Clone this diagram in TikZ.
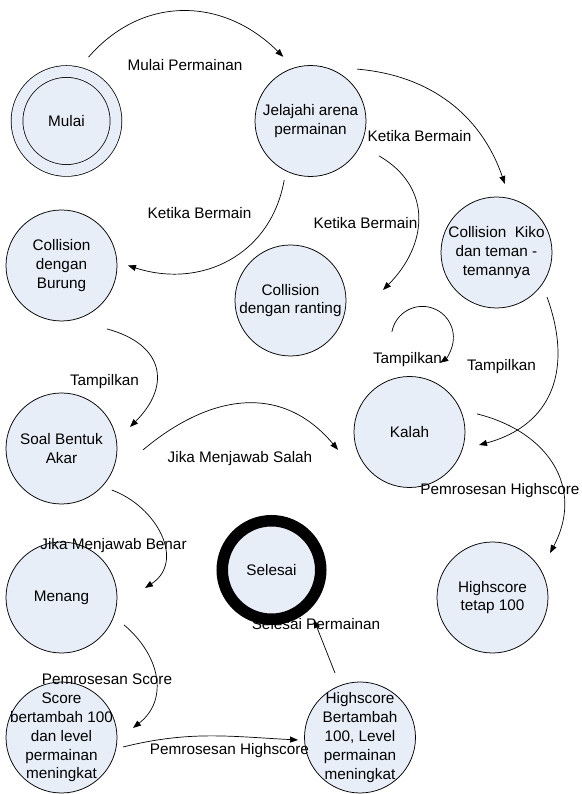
\documentclass[tikz,border=0pt]{standalone}
\usepackage{fontspec}
\setmainfont{Liberation Sans}
\usetikzlibrary{arrows.meta}
\definecolor{statefill}{RGB}{232,238,247}

\begin{document}
\begin{tikzpicture}[
    x=1pt,
    y=1pt,
    every node/.style={
        font=\fontsize{15.3}{18.8}\selectfont
    },
    state/.style={
        circle,
        draw,
        line width=0.75pt,
        fill=statefill,
        minimum size=111pt,
        inner sep=-22pt,
        align=center
    },
    start state/.style={
        state,
        double=statefill,
        double distance=11pt,
        minimum size=99pt
    },
    end state/.style={
        state,
        line width=11.5pt,
        minimum size=98.5pt
    },
    transition/.style={
        draw,
        line width=0.7pt,
        -{Triangle[length=8pt,width=6pt]}
    },
    transition label/.style={
        inner sep=0pt
    },
    ]
    \useasboundingbox (0,0) rectangle (581,794);

    \node[start state] (mulai) at (66.5,673) {Mulai};
    \node[state] (jelajahi) at (310.5,673) {Jelajahi arena\\permainan};
    \node[state] (burung) at (61.5,528.5) {Collision\\dengan\\Burung};
    \node[state] (ranting) at (290.5,493.5) {Collision\\dengan ranting};
    \node[state] (kiko) at (496.5,541.5) {Collision~~Kiko\\dan teman -\\temannya};
    \node[state] (soal) at (61.5,345.5) {Soal Bentuk\\Akar};
    \node[state] (kalah) at (409.5,362) {Kalah};
    \node[state] (menang) at (61.5,196.5) {Menang};
    \node[state] (tetap) at (492.5,196.5) {Highscore\\tetap 100};
    \node[state] (score) at (61.5,56.5) {Score\\bertambah 100\\dan level\\permainan\\meningkat};
    \node[state] (naik) at (360,56.5) {Highscore\\Bertambah\\100, Level\\permainan\\meningkat};
    \node[transition label] (lbl selesai) at (316,169.5) {Selesai Permainan};
    \node[end state] (selesai) at (271.5,224) {Selesai};

    \draw[transition] ([shift={(71:67.5)}]mulai.center) to[out=49,in=135,looseness=1.1] ([shift={(113:69.7)}]jelajahi.center);
    \draw[transition] ([shift={(48:69.8)}]jelajahi.center) to[bend left=33] ([shift={(83:69)}]kiko.center);
    \draw[transition] ([shift={(-27:76.9)}]jelajahi.center) to[out=-30,in=45,looseness=1.2] ([shift={(6.5:93.1)}]ranting.center);
    \draw[transition] ([shift={(-114:64.7)}]jelajahi.center) to[out=-100,in=-18,looseness=1.1] ([shift={(0:66.5)}]burung.center);
    \draw[transition] ([shift={(-54.4:78)}]burung.center) to[out=-15,in=45,looseness=1.5] ([shift={(17.4:71.8)}]soal.center);
    \draw[transition] ([shift={(-1:81.5)}]soal.center) to[out=40,in=130,looseness=1.15] ([shift={(194:73.7)}]kalah.center);
    \draw[transition] ([shift={(100:101.5)}]kalah.center) arc[start angle=170,end angle=-55,radius=31];
    \draw[transition] ([shift={(-41.4:67.3)}]kiko.center) to[out=-70,in=15,looseness=1.2] ([shift={(-10.6:70.7)}]kalah.center);
    \draw[transition] ([shift={(15:69.9)}]kalah.center) to[out=-14,in=62,looseness=1.2] ([shift={(37.7:72.7)}]tetap.center);
    \draw[transition] ([shift={(-39.6:65.1)}]soal.center) to[out=-20,in=33,looseness=1.2] ([shift={(6.5:84)}]menang.center);
    \draw[transition] ([shift={(-23.7:68.3)}]menang.center) to[out=-40,in=38,looseness=1.15] ([shift={(7.6:72.1)}]score.center);
    \draw[transition] ([shift={(-8.8:62.2)}]score.center) to[out=14,in=177] ([shift={(182.3:62)}]naik.center);
    \draw[transition] ([shift={(111.2:69.2)}]naik.center) -- ([shift={(-49.6:65.6)}]selesai.center);

    \node[transition label] (lbl mulai) at (185,729) {Mulai Permainan};
    \node[transition label] (lbl kiko) at (419.5,658) {Ketika Bermain};
    \node[transition label] (lbl ranting) at (365.5,571) {Ketika Bermain};
    \node[transition label] (lbl burung) at (199.5,581) {Ketika Bermain};
    \node[transition label] (lbl soal) at (104.5,412.3) {Tampilkan};
    \node[transition label] (lbl salah) at (240,335) {Jika Menjawab Salah};
    \node[transition label] (lbl loop) at (407.5,434) {Tampilkan};
    \node[transition label] (lbl kalah) at (501.5,427) {Tampilkan};
    \node[transition label] (lbl tetap) at (500,303) {Pemrosesan Highscore};
    \node[transition label] (lbl benar) at (113.5,248) {Jika Menjawab Benar};
    \node[transition label] (lbl score) at (107,115) {Pemrosesan Score};
    \node[transition label] (lbl naik) at (229.5,43.3) {Pemrosesan Highscore};
\end{tikzpicture}
\end{document}
